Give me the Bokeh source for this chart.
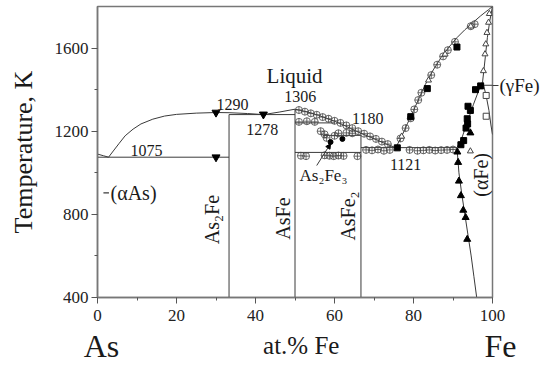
import math
from bokeh.plotting import figure
from bokeh.models import Range1d, FixedTicker, Label, Arrow, NormalHead, LinearAxis
from bokeh.embed import file_html
from bokeh.resources import INLINE

# ---------------- data (at.% Fe, K) ----------------
x_ticks = [0, 20, 40, 60, 80, 100]
x_minor = [10, 30, 50, 70, 90]
y_ticks = [400, 800, 1200, 1600]
y_minor = [600, 1000, 1400]

# liquidus, As side up to AsFe
liq_as_x = [0, 1.5, 2.8, 4, 5.5, 7, 9, 11, 14, 17, 20, 25, 30, 33.3, 38, 42, 46, 50]
liq_as_T = [1090, 1082, 1075, 1105, 1142, 1178, 1210, 1235, 1258, 1273, 1281, 1287, 1290, 1289, 1285, 1280, 1292, 1306]
# liquidus AsFe -> eutectic
liq_mid_x = [50, 52, 54, 56, 58, 60, 62, 64, 66.7, 69, 71, 73, 75.5]
liq_mid_T = [1306, 1298, 1288, 1276, 1262, 1248, 1232, 1214, 1190, 1172, 1156, 1139, 1121]
# liquidus Fe side
liq_fe_x = [75.5, 77, 78.5, 80, 81.5, 83, 85, 87, 89, 91, 93, 95, 97, 99, 100]
liq_fe_T = [1121, 1175, 1238, 1300, 1362, 1425, 1495, 1555, 1605, 1650, 1688, 1722, 1755, 1785, 1800]
# Fe-rich boundaries
fe_sol_x = [100, 99.3, 98.7, 98.2, 97.8, 97.5]
fe_sol_T = [1800, 1730, 1650, 1560, 1490, 1440]
gam_left_x = [97.5, 96.3, 95.2, 94.2, 93.2, 92.2, 91]
gam_left_T = [1440, 1385, 1330, 1275, 1220, 1165, 1121]
gam_right_x = [97.5, 98.4, 99.1, 99.6, 100]
gam_right_T = [1440, 1370, 1300, 1230, 1184]
alpha_x = [91, 91.5, 92.2, 93, 93.8, 94.6, 95.3, 96]
alpha_T = [1121, 1000, 900, 800, 700, 600, 500, 400]

# invariant / compound lines (segments)
seg_x0 = [0, 33.3, 50, 57, 50, 66.7, 33.3, 50, 66.7, 96.5]
seg_y0 = [1075, 1280, 1240, 1180, 1098, 1121, 400, 400, 400, 1421]
seg_x1 = [33.3, 50, 60, 66.7, 66.7, 91, 33.3, 50, 66.7, 100]
seg_y1 = [1075, 1280, 1240, 1180, 1098, 1121, 1280, 1306, 1180, 1421]

# experimental points
cc_x = [51, 52.5, 54, 55.5, 57, 58.5, 60, 61.5, 63, 64.5, 66, 67.5, 69, 70.5, 72, 73.5,
        51, 53, 55, 56.5, 57.5, 58, 60, 61, 63, 64.5,
        51.5, 52.8, 57.5, 58.7, 59.8, 61, 62.3, 65.8,
        68, 69.5, 71, 72.5, 74, 79, 81, 82.5, 84, 85.5, 87, 88.5, 90,
        76.7, 78, 79.3, 80.2, 81.2, 82, 84.5, 86, 87.5, 88.7, 90.5, 94.5, 95.5]
cc_T = [1302, 1294, 1286, 1279, 1268, 1260, 1250, 1240, 1228, 1215, 1200, 1188, 1175, 1163, 1150, 1138,
        1245, 1248, 1245, 1200, 1185, 1168, 1178, 1190, 1192, 1190,
        1082, 1080, 1084, 1082, 1080, 1083, 1081, 1080,
        1110, 1108, 1112, 1106, 1110, 1110, 1106, 1108, 1110, 1107, 1109, 1110, 1112,
        1165, 1215, 1262, 1305, 1350, 1385, 1470, 1520, 1560, 1590, 1630, 1705, 1715]
sq_x = [75.9, 79.3, 83.5, 91, 95.7, 97, 93.8, 94.4, 93.6, 93.7, 93.3, 92.7, 92]
sq_T = [1120, 1270, 1405, 1605, 1400, 1418, 1320, 1300, 1260, 1235, 1215, 1155, 1135]
osq_x = [98.4, 98.4]
osq_T = [1372, 1272]
tri_x = [91.1, 91.3, 91.5, 92, 92.6, 93.2, 93.6, 94.4]
tri_T = [1100, 1050, 960, 890, 820, 785, 680, 1192]
otri_x = [97.7, 98.1, 98.3, 98.6, 99, 99.2, 88, 83.8, 94.5, 77, 94.4]
otri_T = [1490, 1571, 1619, 1674, 1723, 1765, 1570, 1445, 1705, 1175, 1104]
inv_x = [30, 42, 30]
inv_T = [1290, 1281, 1075]
dot_x = [59, 62]
dot_T = [1148, 1163]

# element / phase captions on the outer axes
elem_ticks = [1, 100]
elem_labels = {1: "As", 100: "\u00a0\u00a0Fe"}
gamma_T = [1421]
gamma_label = {1421: "(γFe)"}

SERIF = "Liberation Serif"
LC = "#3a3a3a"

p = figure(width=547, height=365, x_range=Range1d(0, 100), y_range=Range1d(400, 1800),
           output_backend="svg", toolbar_location=None,
           min_border_left=97, min_border_right=55, min_border_top=6, min_border_bottom=68)
p.xgrid.visible = False
p.ygrid.visible = False
p.outline_line_color = "#777777"
p.outline_line_width = 1.5
p.background_fill_color = "white"
p.border_fill_color = "white"

p.xaxis.ticker = FixedTicker(ticks=x_ticks, minor_ticks=x_minor)
p.yaxis.ticker = FixedTicker(ticks=y_ticks, minor_ticks=y_minor)
for ax in (p.xaxis[0], p.yaxis[0]):
    ax.axis_line_color = "#777777"
    ax.axis_line_width = 1.5
    ax.major_tick_line_color = "#555555"
    ax.minor_tick_line_color = "#555555"
    ax.major_tick_in = 0
    ax.major_tick_out = 6
    ax.minor_tick_in = 0
    ax.minor_tick_out = 3
    ax.major_label_text_font = SERIF
    ax.major_label_text_font_size = "17px"
    ax.major_label_text_color = "#222222"
p.xaxis.major_label_standoff = 6
p.yaxis.major_label_standoff = 3
p.yaxis.axis_label = "Temperature, K"
p.yaxis.axis_label_text_font = SERIF
p.yaxis.axis_label_text_font_size = "26px"
p.yaxis.axis_label_text_font_style = "normal"
p.yaxis.axis_label_text_color = "#1a1a1a"
p.yaxis.axis_label_standoff = 14

# second bottom axis: element names + composition caption
ax2 = LinearAxis(ticker=FixedTicker(ticks=elem_ticks), major_label_overrides=elem_labels,
                 axis_line_color=None, major_tick_line_color=None, minor_tick_line_color=None,
                 major_tick_out=0, major_tick_in=0, minor_tick_out=0, minor_tick_in=0,
                 major_label_standoff=4, major_label_text_font=SERIF,
                 major_label_text_font_size="32px", major_label_text_color="#1a1a1a",
                 axis_label="\u00a0\u00a0at.% Fe", axis_label_text_font=SERIF,
                 axis_label_text_font_size="25px", axis_label_text_font_style="normal",
                 axis_label_text_color="#1a1a1a", axis_label_standoff=-35)
p.add_layout(ax2, "below")

# right axis: (γFe) caption with leader tick
ax3 = LinearAxis(ticker=FixedTicker(ticks=gamma_T), major_label_overrides=gamma_label,
                 axis_line_color=None, major_tick_line_color=LC, minor_tick_line_color=None,
                 major_tick_out=6, major_tick_in=0, minor_tick_out=0, minor_tick_in=0,
                 major_label_standoff=1, major_label_text_font=SERIF,
                 major_label_text_font_size="19px", major_label_text_color="#1a1a1a")
p.add_layout(ax3, "right")

# lines
for xs, ys in [(liq_as_x, liq_as_T), (liq_mid_x, liq_mid_T), (liq_fe_x, liq_fe_T),
               (fe_sol_x, fe_sol_T), (gam_left_x, gam_left_T), (gam_right_x, gam_right_T),
               (alpha_x, alpha_T)]:
    p.line(xs, ys, line_color=LC, line_width=1)
p.segment(seg_x0, seg_y0, seg_x1, seg_y1, line_color=LC, line_width=1)

# markers
p.scatter(cc_x, cc_T, marker="circle_cross", size=7, line_color="#444444", fill_color="white",
          fill_alpha=0.0, line_width=0.8)
p.scatter(sq_x, sq_T, marker="square", size=6, line_color="black", fill_color="black")
p.scatter(osq_x, osq_T, marker="square", size=6, line_color="#444444", fill_color="white")
p.scatter(tri_x, tri_T, marker="triangle", size=7, line_color="black", fill_color="black")
p.scatter(otri_x, otri_T, marker="triangle", size=6, line_color="#444444", fill_color="white")
p.scatter(inv_x, inv_T, marker="inverted_triangle", size=8, line_color="black", fill_color="black")
p.scatter(dot_x, dot_T, marker="circle", size=5, line_color="black", fill_color="black")

# annotations
def lab(x, y, t, size="16px", angle=0.0, align="center"):
    p.add_layout(Label(x=x, y=y, text=t, text_font=SERIF, text_font_size=size,
                       text_align=align, text_baseline="middle", angle=angle,
                       text_color="#1a1a1a"))

lab(49.9, 1466, "Liquid", "21px")
lab(12.4, 1109, "1075")
lab(34.2, 1330, "1290")
lab(41.7, 1210, "1278")
lab(51.3, 1368, "1306")
lab(68.4, 1262, "1180")
lab(78.0, 1041, "1121")
lab(57.2, 985, "As₂Fe₃", "17px")
lab(3.3, 903, "(αAs)", "20px", align="left")
lab(29.0, 775, "As₂Fe", "20px", angle=math.pi / 2)
lab(47.0, 780, "AsFe", "20px", angle=math.pi / 2)
lab(63.3, 792, "AsFe₂", "20px", angle=math.pi / 2)
lab(97.2, 990, "(αFe)", "20px", angle=math.pi / 2)

# leaders
p.add_layout(Arrow(x_start=55.5, y_start=1035, x_end=59, y_end=1140,
                   end=NormalHead(size=5, fill_color="black", line_color="black"),
                   line_color=LC, line_width=1))
p.add_layout(Arrow(x_start=1.5, y_start=903, x_end=2.9, y_end=903, end=None,
                   line_color=LC, line_width=1.2))

open("out.html", "w").write(file_html(p, INLINE))
